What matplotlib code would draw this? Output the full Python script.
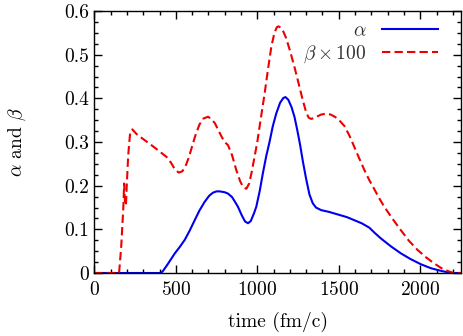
import matplotlib
matplotlib.use("Agg")
import matplotlib.pyplot as plt
from matplotlib.ticker import MultipleLocator

plt.rcParams['font.family'] = 'serif'
plt.rcParams['font.serif'] = ['cmr10']
plt.rcParams['mathtext.fontset'] = 'cm'
plt.rcParams['axes.formatter.use_mathtext'] = True

# alpha (blue solid)
t_alpha = [0, 410, 422, 450, 494, 525, 555, 585, 616, 645, 677, 705, 728, 750,
           769, 800, 820, 845, 865, 881, 905, 925, 943, 960, 980, 994, 1015,
           1034, 1055, 1075, 1095, 1116, 1140, 1160, 1173, 1190, 1210, 1228,
           1245, 1263, 1280, 1300, 1320, 1340, 1360, 1392, 1440, 1504, 1550,
           1595, 1640, 1687, 1720, 1759, 1820, 1881, 1940, 2004, 2065, 2126,
           2177, 2200, 2250]
alpha = [0, 0, 0.005, 0.02, 0.045, 0.060, 0.076, 0.097, 0.121, 0.143, 0.163,
         0.177, 0.184, 0.187, 0.187, 0.185, 0.182, 0.174, 0.162, 0.152, 0.132,
         0.118, 0.114, 0.119, 0.137, 0.152, 0.188, 0.228, 0.268, 0.300, 0.336,
         0.365, 0.390, 0.401, 0.403, 0.397, 0.380, 0.358, 0.328, 0.293, 0.255,
         0.215, 0.180, 0.160, 0.150, 0.144, 0.140, 0.133, 0.128, 0.121, 0.114,
         0.104, 0.092, 0.079, 0.061, 0.045, 0.032, 0.020, 0.011, 0.005, 0.001,
         0, 0]

# beta x 100 (red dashed)
t_beta = [0, 152, 165, 178, 183, 188, 194, 199, 208, 220, 233, 260, 310, 350,
          392, 443, 470, 495, 518, 540, 560, 580, 600, 620, 645, 670, 698, 720,
          740, 760, 780, 800, 820, 845, 871, 895, 915, 933, 950, 965, 980,
          1000, 1020, 1045, 1065, 1086, 1105, 1120, 1130, 1145, 1160, 1177,
          1200, 1228, 1255, 1279, 1300, 1315, 1330, 1350, 1370, 1392, 1420,
          1450, 1480, 1510, 1534, 1565, 1595, 1625, 1657, 1687, 1718, 1750,
          1779, 1830, 1881, 1930, 1983, 2035, 2085, 2130, 2167, 2195, 2210,
          2250]
beta100 = [0, 0, 0.06, 0.15, 0.205, 0.16, 0.155, 0.2, 0.27, 0.322, 0.329,
           0.318, 0.304, 0.293, 0.281, 0.266, 0.253, 0.237, 0.230, 0.233, 0.245,
           0.265, 0.290, 0.315, 0.340, 0.354, 0.358, 0.352, 0.343, 0.328, 0.313,
           0.300, 0.293, 0.270, 0.236, 0.210, 0.196, 0.193, 0.205, 0.230, 0.260,
           0.300, 0.350, 0.411, 0.465, 0.518, 0.550, 0.563, 0.565, 0.562, 0.553,
           0.538, 0.510, 0.472, 0.432, 0.396, 0.368, 0.356, 0.353, 0.355, 0.359,
           0.363, 0.365, 0.363, 0.357, 0.347, 0.337, 0.315, 0.289, 0.263, 0.236,
           0.213, 0.192, 0.170, 0.152, 0.124, 0.098, 0.074, 0.053, 0.036, 0.022,
           0.011, 0.005, 0.001, 0, 0]

fig = plt.figure(figsize=(4.63, 3.36), dpi=100)
ax = fig.add_axes([0.2037, 0.1875, 0.9957 - 0.2037, 0.967 - 0.1875])

ax.plot(t_alpha, alpha, color='#0000ee', lw=1.5, label=r'$\alpha$')
ax.plot(t_beta, beta100, color='#ee0000', lw=1.5, ls=(0, (4, 2)),
        label=r'$\beta\times100$')

ax.set_xlim(0, 2250)
ax.set_ylim(0, 0.6)
ax.xaxis.set_major_locator(MultipleLocator(500))
ax.xaxis.set_minor_locator(MultipleLocator(100))
ax.yaxis.set_major_locator(MultipleLocator(0.1))
ax.yaxis.set_minor_locator(MultipleLocator(0.025))
ax.set_yticks([0, 0.1, 0.2, 0.3, 0.4, 0.5, 0.6])
ax.set_yticklabels(['0', '0.1', '0.2', '0.3', '0.4', '0.5', '0.6'])
ax.tick_params(which='both', direction='in', top=True, right=True,
               labelsize=14, width=1.0)
ax.tick_params(which='major', length=6)
ax.tick_params(which='minor', length=3)
ax.tick_params(axis='x', pad=6)
for s in ax.spines.values():
    s.set_linewidth(1.0)

ax.set_xlabel('time (fm/c)', fontsize=14, labelpad=9)
ax.set_ylabel(r'$\alpha$ and $\beta$', fontsize=14, labelpad=26)

leg = ax.legend(loc='upper right', bbox_to_anchor=(0.975, 1.01),
                frameon=False, markerfirst=False,
                fontsize=14, handlelength=2.9, borderaxespad=0.3,
                labelspacing=0.2)
for t in leg.get_texts():
    t.set_color('#333333')

fig.savefig('out.png', dpi=100)
